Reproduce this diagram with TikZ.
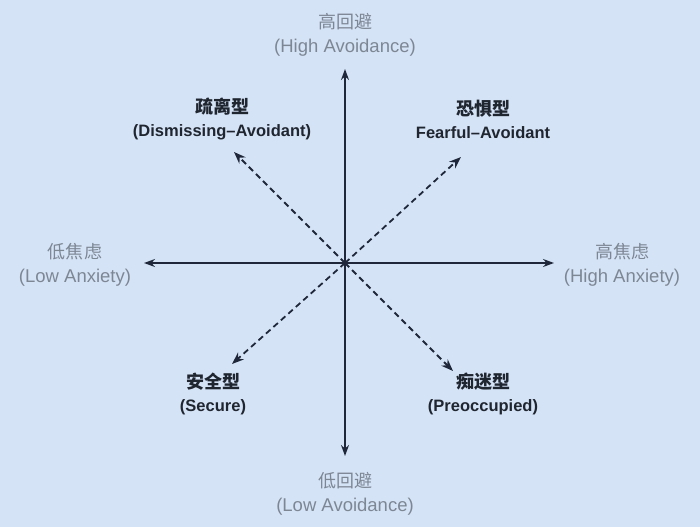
\documentclass[tikz,border=0pt]{standalone}
\usepackage{fontspec}
\usepackage{tikz}
\usetikzlibrary{arrows.meta}
\setmainfont{Liberation Sans}
\newfontfamily\cjk{Noto Sans CJK SC}
\definecolor{bgblue}{RGB}{213,227,247}
\definecolor{axisnavy}{RGB}{30,40,58}
\definecolor{axisgray}{RGB}{125,135,148}
\definecolor{typedark}{RGB}{32,38,48}
\newcommand{\zh}[1]{{\cjk\fontsize{18}{24}\selectfont #1}}

\begin{document}
\begin{tikzpicture}[x=1pt,y=1pt,yscale=-1,xscale=1,
  axislabel/.style={text=axisgray,font=\fontsize{18.5}{24}\selectfont,align=center,inner sep=0pt},
  typelabel/.style={text=typedark,font=\bfseries\fontsize{16.5}{23}\selectfont,align=center,inner sep=0pt},
  axisline/.style={draw=axisnavy,line width=1.6pt,-{Stealth[length=11pt,width=8pt]}},
  typeline/.style={draw=axisnavy,line width=1.8pt,dash pattern=on 6pt off 4pt,-{Stealth[length=12pt,width=9pt]}}]
%background
\fill [bgblue] (0,0) rectangle (700,527) ;
\useasboundingbox (0,0) rectangle (700,527) ;

%centre and tips
\coordinate (origin) at (345,263) ;
\coordinate (avoidhigh) at (345,69) ;
\coordinate (avoidlow) at (345,456) ;
\coordinate (anxlow) at (144,263) ;
\coordinate (anxhigh) at (554,263) ;
\coordinate (dismiss) at (234,152) ;
\coordinate (fearful) at (461,157) ;
\coordinate (secure) at (232,364) ;
\coordinate (preocc) at (453,371) ;

%axes
\draw [axisline] (origin) -- (avoidhigh) ;
\draw [axisline] (origin) -- (avoidlow) ;
\draw [axisline] (origin) -- (anxlow) ;
\draw [axisline] (origin) -- (anxhigh) ;

%dashed diagonals
\draw [typeline] (origin) -- (dismiss) ;
\draw [typeline] (origin) -- (fearful) ;
\draw [typeline] (origin) -- (secure) ;
\draw [typeline] (origin) -- (preocc) ;

%axis labels
\node [axislabel] (avoidhighlbl) at (345,35) {\zh{高回避}\\(High Avoidance)} ;
\node [axislabel] (avoidlowlbl) at (345,494) {\zh{低回避}\\(Low Avoidance)} ;
\node [axislabel] (anxlowlbl) at (75,265) {\zh{低焦虑}\\(Low Anxiety)} ;
\node [axislabel] (anxhighlbl) at (622,265) {\zh{高焦虑}\\(High Anxiety)} ;

%type labels
\node [typelabel] (dismisslbl) at (222,119) {\zh{\bfseries 疏离型}\\(Dismissing–Avoidant)} ;
\node [typelabel] (fearfullbl) at (483,119) {\zh{\bfseries 恐惧型}\\Fearful–Avoidant} ;
\node [typelabel] (securelbl) at (213,394) {\zh{\bfseries 安全型}\\(Secure)} ;
\node [typelabel] (preocclbl) at (483,394) {\zh{\bfseries 痴迷型}\\(Preoccupied)} ;

\end{tikzpicture}
\end{document}
